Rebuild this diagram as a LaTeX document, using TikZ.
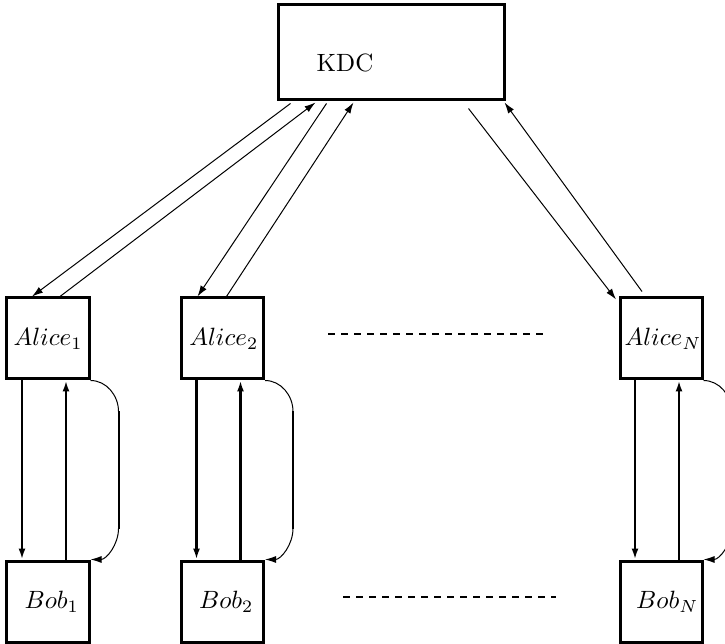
\documentclass[tikz,border=0pt]{standalone}
\usetikzlibrary{arrows.meta,calc}
\begin{document}
\begin{tikzpicture}[x=0.4pt,y=-0.4pt,
  box/.style={draw,line width=1.2pt,minimum width=32.8pt,minimum height=32.4pt,inner sep=0pt},
  thinarrow/.style={line width=0.4pt,-{Latex[length=4.4pt,width=2.8pt]}},
  vertarrow/.style={line width=0.9pt,-{Latex[length=4.4pt,width=2.8pt]}},
  dotsline/.style={line width=0.9pt,dash pattern=on 2.8pt off 2.4pt}]
\useasboundingbox (0,0) rectangle (725,644);
% KDC
\node[draw,line width=1.2pt,minimum width=90.4pt,minimum height=38pt,inner sep=0pt] (kdc) at (391,52.5) {};
\node (kdclabel) at (345,63) {KDC};
% Alices
\node[box] (a1) at (48,338.5) {$Alice_1$};
\node[box] (a2) at (222.5,338.5) {\kern1pt$Alice_2$};
\node[box] (aN) at (661,338.5) {\kern1.5pt$Alice_N$};
% Bobs
\node[box] (b1) at (48,601.5) {\kern3pt$Bob_1$};
\node[box] (b2) at (222.5,601.5) {\kern3pt$Bob_2$};
\node[box] (bN) at (661,601.5) {\kern5pt$Bob_N$};
% KDC <-> Alice arrows
\draw[thinarrow] ($(kdc.south west)+(14,2)$) -- ($(a1.north)+(-16,0)$);
\draw[thinarrow] ($(a1.north)+(12,0)$) -- ($(kdc.south west)+(39,1)$);
\draw[thinarrow] ($(kdc.south west)+(50,2)$) -- ($(a2.north)+(-25,0)$);
\draw[thinarrow] ($(a2.north)+(4,0)$) -- ($(kdc.south west)+(77,1)$);
\draw[thinarrow] ($(kdc.south east)+(-37,7)$) -- ($(aN.north)+(-45,3)$);
\draw[thinarrow] ($(aN.north)+(-19,-5)$) -- ($(kdc.south east)+(-1,1)$);
% Alice <-> Bob
\foreach \a/\b in {a1/b1,a2/b2,aN/bN}{
  \draw[vertarrow] ($(\a.south)+(-26,0)$) -- ($(\b.north)+(-26,0)$);
  \draw[vertarrow] ($(\b.north)+(18,0)$) -- ($(\a.south)+(18,0)$);
  \draw[line width=0.4pt] (\a.south east) .. controls +(16,0) and +(0,-16) .. ($(\a.south east)+(28,31)$);
  \draw[line width=0.8pt] ($(\a.south east)+(28,31)$) -- ($(\b.north east)+(28,-31)$);
  \draw[thinarrow] ($(\b.north east)+(28,-31)$) .. controls +(0,16) and +(16,0) .. (\b.north east);
}
% dashed separators
\coordinate (d1s) at (328,334);
\coordinate (d1e) at (548,334);
\coordinate (d2s) at (343,597);
\coordinate (d2e) at (556,597);
\draw[dotsline] (d1s) -- (d1e);
\draw[dotsline] (d2s) -- (d2e);
\end{tikzpicture}
\end{document}
